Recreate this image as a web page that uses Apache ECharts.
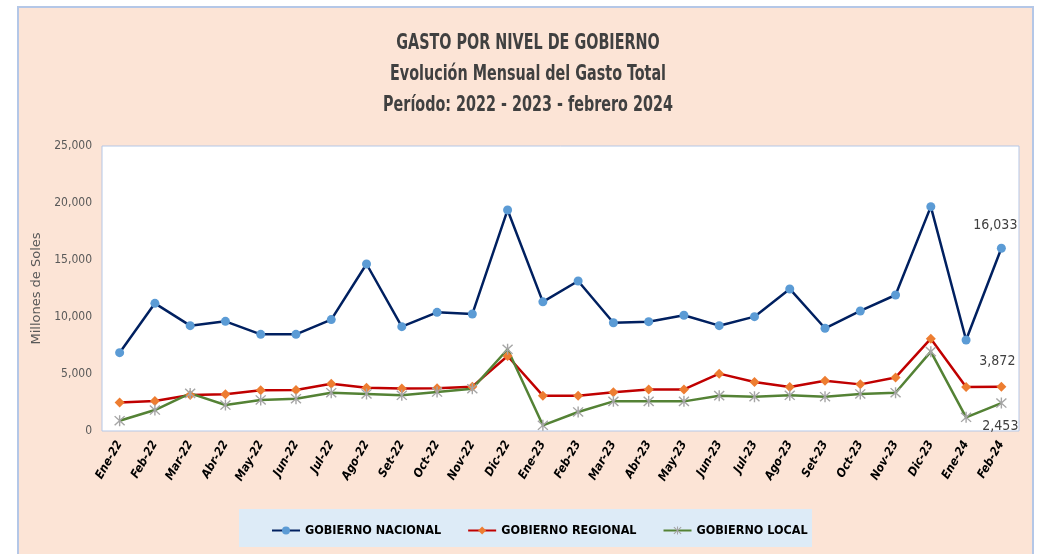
<!DOCTYPE html>
<html style="height: 100%">
<head>
    <meta charset="utf-8">
    <script src="https://cdn.jsdelivr.net/npm/echarts@6/dist/echarts.min.js"></script>
</head>
<body style="height: 100%; margin: 0; background: #fff">
<div id="container" style="width: 1039px; height: 554px"></div>

<script type="text/javascript">
    var months = ['Ene-22', 'Feb-22', 'Mar-22', 'Abr-22', 'May-22', 'Jun-22', 'Jul-22', 'Ago-22', 'Set-22',
        'Oct-22', 'Nov-22', 'Dic-22', 'Ene-23', 'Feb-23', 'Mar-23', 'Abr-23', 'May-23', 'Jun-23', 'Jul-23',
        'Ago-23', 'Set-23', 'Oct-23', 'Nov-23', 'Dic-23', 'Ene-24', 'Feb-24'];
    var nacional = [6870, 11200, 9240, 9620, 8480, 8480, 9770, 14650, 9150, 10410, 10260, 19390, 11330,
        13160, 9500, 9590, 10150, 9240, 10030, 12460, 9010, 10530, 11930, 19680, 7980, 16033];
    var regional = [2490, 2630, 3150, 3220, 3570, 3600, 4150, 3800, 3720, 3740, 3890, 6580, 3100,
        3100, 3390, 3650, 3650, 5030, 4300, 3860, 4410, 4090, 4700, 8100, 3850, 3872];
    var local = [900, 1840, 3300, 2280, 2720, 2830, 3360, 3250, 3130, 3420, 3710, 7170, 500,
        1670, 2600, 2600, 2600, 3100, 3010, 3130, 3010, 3250, 3360, 6960, 1200, 2453];
    var titles = ['GASTO POR NIVEL DE GOBIERNO', 'Evolución Mensual del Gasto Total',
        'Período: 2022 - 2023 - febrero 2024'];

    var narrow = '"DejaVu Sans Condensed", "DejaVu Sans", sans-serif';
    var asterisk = 'path://M-4.5,-5.5 L5.5,4.5 L4.5,5.5 L-5.5,-4.5 Z M-4.5,5.5 L-5.5,4.5 L4.5,-5.5 L5.5,-4.5 Z M-0.7,-6 L0.7,-6 L0.7,6 L-0.7,6 Z';

    // label only on the last point
    function lastLabel(arr, pos, offset) {
        return arr.map(function (v, i) {
            if (i < arr.length - 1) return v;
            return {
                value: v,
                label: {show: true, position: pos, offset: offset, color: '#404040',
                    fontFamily: narrow, fontSize: 14, formatter: function (p) { return p.value.toLocaleString('en-US'); }}
            };
        });
    }

    // title lines, squeezed horizontally like the condensed original
    var titleGraphics = titles.map(function (t, i) {
        return {type: 'text', x: 528, y: 44 + i * 31, scaleX: 0.76, z: 10,
            style: {text: t, fontFamily: narrow, fontSize: 21, fontWeight: 'bold', fill: '#404040',
                align: 'center', verticalAlign: 'middle'}};
    });

    var dom = document.getElementById("container");
    var myChart = echarts.init(dom);
    var option = {
        animation: false,
        graphic: [
            {type: 'rect', z: -10, shape: {x: 18, y: 7, width: 1015, height: 560},
                style: {fill: '#FCE4D6', stroke: '#B4C7E7', lineWidth: 2}},
            {type: 'rect', z: -5, shape: {x: 239, y: 509, width: 573, height: 38},
                style: {fill: '#DDEBF7'}}
        ].concat(titleGraphics),
        legend: {
            left: 266,
            top: 519,
            itemWidth: 28,
            itemHeight: 10,
            itemGap: 26,
            textStyle: {fontFamily: narrow, fontSize: 12.5, fontWeight: 'bold', color: '#000'},
            data: ['GOBIERNO NACIONAL', 'GOBIERNO REGIONAL', 'GOBIERNO LOCAL']
        },
        grid: {left: 102, right: 20, top: 146, bottom: 123, containLabel: false,
            show: true, backgroundColor: '#fff', borderColor: '#B4C7E7', borderWidth: 1},
        xAxis: {
            type: 'category',
            data: months,
            boundaryGap: true,
            axisLine: {show: false},
            axisTick: {show: false},
            axisLabel: {rotate: 60, margin: 11, interval: 0, color: '#000', fontFamily: narrow,
                fontSize: 12, fontWeight: 'bold', fontStyle: 'italic'}
        },
        yAxis: {
            type: 'value',
            min: 0,
            max: 25000,
            interval: 5000,
            name: 'Millones de Soles',
            nameLocation: 'middle',
            nameGap: 47,
            nameTextStyle: {color: '#595959', fontFamily: '"DejaVu Sans", sans-serif', fontSize: 13},
            splitLine: {show: false},
            axisLine: {show: false},
            axisTick: {show: false},
            axisLabel: {color: '#595959', fontFamily: narrow, fontSize: 12, margin: 10,
                formatter: function (v) { return v.toLocaleString('en-US'); }}
        },
        series: [
            {
                name: 'GOBIERNO NACIONAL',
                type: 'line',
                data: lastLabel(nacional, 'top', [-6, -6]),
                symbol: 'circle',
                symbolSize: 9,
                lineStyle: {color: '#002060', width: 2.5},
                itemStyle: {color: '#5B9BD5'}
            },
            {
                name: 'GOBIERNO REGIONAL',
                type: 'line',
                data: lastLabel(regional, 'top', [-4, -8]),
                symbol: 'diamond',
                symbolSize: 10,
                lineStyle: {color: '#C00000', width: 2.5},
                itemStyle: {color: '#ED7D31'}
            },
            {
                name: 'GOBIERNO LOCAL',
                type: 'line',
                data: lastLabel(local, 'bottom', [-1, 6]),
                symbol: asterisk,
                symbolSize: 11,
                lineStyle: {color: '#548235', width: 2.5},
                itemStyle: {color: '#A5A5A5'}
            }
        ]
    };
    myChart.setOption(option, true);
</script>
</body>
</html>
